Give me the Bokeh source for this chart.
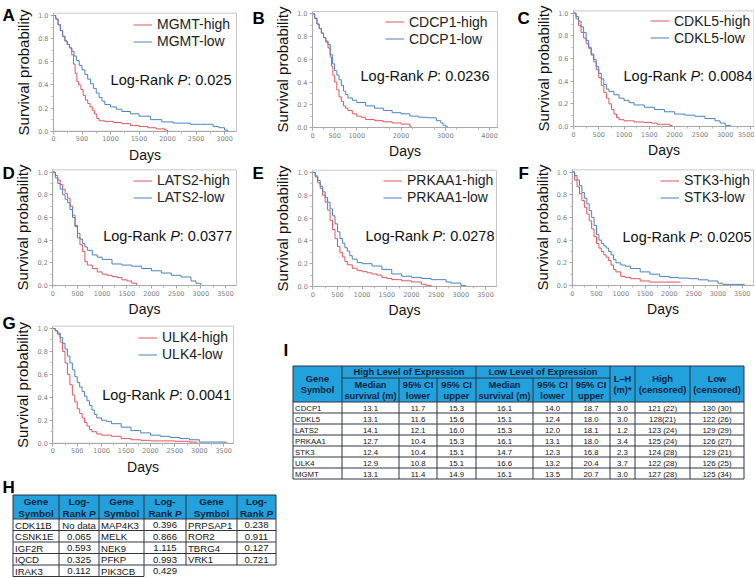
from bokeh.plotting import figure
from bokeh.models import Range1d, FixedTicker, Legend, LegendItem, PrintfTickFormatter, LinearAxis
from bokeh.core.properties import value
from bokeh.embed import file_html
from bokeh.resources import INLINE

RED = "#e0575c"
BLUE = "#4b82c3"
FONT = "Liberation Sans"
W, H = 754, 577

# ---------------- data: Kaplan-Meier curves (days, survival probability) ----------------
A_GENE, A_P = "MGMT", "0.025"
A_HIGH_T = [0, 40, 80, 120, 160, 200, 240, 280, 320, 350, 380, 410, 440, 480, 520, 560, 600, 640, 680, 720, 760, 800, 900, 1050, 1200, 1350, 1500, 1650, 1800, 1950, 2000]
A_HIGH_S = [1.0, 0.97, 0.92, 0.87, 0.82, 0.78, 0.75, 0.72, 0.66, 0.58, 0.50, 0.43, 0.40, 0.36, 0.31, 0.27, 0.24, 0.21, 0.18, 0.15, 0.11, 0.09, 0.085, 0.075, 0.065, 0.05, 0.04, 0.03, 0.02, 0.01, 0.0]
A_LOW_T = [0, 40, 80, 120, 160, 200, 240, 280, 320, 360, 400, 450, 500, 550, 600, 650, 700, 750, 800, 850, 900, 1000, 1100, 1200, 1350, 1500, 1700, 1900, 2100, 2400, 2700, 2800, 2900, 3000, 3050]
A_LOW_S = [1.0, 0.97, 0.92, 0.87, 0.82, 0.78, 0.75, 0.72, 0.69, 0.65, 0.61, 0.57, 0.53, 0.49, 0.45, 0.41, 0.37, 0.33, 0.29, 0.26, 0.23, 0.21, 0.19, 0.17, 0.15, 0.13, 0.10, 0.08, 0.07, 0.06, 0.06, 0.04, 0.03, 0.01, 0.0]
A_XTICKS = [0, 500, 1000, 1500, 2000, 2500, 3000]

B_GENE, B_P = "CDCP1", "0.0236"
B_HIGH_T = [0, 50, 100, 150, 200, 250, 300, 350, 400, 430, 460, 500, 550, 600, 650, 700, 750, 800, 900, 1000, 1100, 1200, 1400, 1600, 1800, 2000, 2200, 2230]
B_HIGH_S = [1.0, 0.96, 0.91, 0.87, 0.83, 0.79, 0.75, 0.70, 0.62, 0.54, 0.46, 0.40, 0.33, 0.27, 0.23, 0.19, 0.17, 0.15, 0.12, 0.10, 0.09, 0.07, 0.06, 0.05, 0.04, 0.03, 0.01, 0.0]
B_LOW_T = [0, 50, 100, 150, 200, 250, 300, 350, 400, 450, 500, 550, 600, 650, 700, 750, 800, 900, 1000, 1200, 1400, 1600, 1800, 2000, 2200, 2400, 2600, 2800, 2900, 2950, 3000, 3050]
B_LOW_S = [1.0, 0.96, 0.91, 0.87, 0.83, 0.79, 0.76, 0.73, 0.64, 0.56, 0.50, 0.46, 0.42, 0.37, 0.32, 0.29, 0.26, 0.24, 0.22, 0.19, 0.17, 0.15, 0.13, 0.12, 0.10, 0.09, 0.085, 0.06, 0.04, 0.02, 0.01, 0.0]
B_XTICKS = [0, 500, 1000, 2000, 3000, 4000]

C_GENE, C_P = "CDKL5", "0.0084"
C_HIGH_T = [0, 50, 100, 150, 200, 250, 300, 350, 400, 450, 500, 550, 600, 650, 700, 750, 800, 850, 900, 1000, 1200, 1400, 1550, 1650, 1900, 1950]
C_HIGH_S = [1.0, 0.95, 0.89, 0.83, 0.78, 0.73, 0.69, 0.63, 0.57, 0.50, 0.43, 0.36, 0.30, 0.25, 0.20, 0.15, 0.11, 0.08, 0.06, 0.05, 0.04, 0.035, 0.03, 0.02, 0.01, 0.0]
C_LOW_T = [0, 50, 100, 150, 200, 250, 300, 350, 400, 450, 500, 550, 600, 650, 700, 800, 900, 1000, 1100, 1200, 1400, 1600, 1800, 2000, 2200, 2400, 2600, 2800, 2900, 3000, 3100, 3550]
C_LOW_S = [1.0, 0.97, 0.93, 0.88, 0.83, 0.76, 0.70, 0.64, 0.59, 0.53, 0.47, 0.42, 0.37, 0.33, 0.31, 0.28, 0.25, 0.23, 0.21, 0.19, 0.17, 0.15, 0.13, 0.11, 0.10, 0.09, 0.07, 0.05, 0.03, 0.01, 0.0, 0.0]
C_XTICKS = [0, 500, 1000, 1500, 2000, 2500, 3000, 3500]

D_GENE, D_P = "LATS2", "0.0377"
D_HIGH_T = [0, 50, 100, 150, 200, 250, 300, 350, 400, 450, 500, 550, 600, 650, 700, 800, 900, 1000, 1100, 1200, 1300, 1400, 1500, 1600, 1700, 2200]
D_HIGH_S = [1.0, 0.97, 0.93, 0.89, 0.85, 0.81, 0.77, 0.70, 0.62, 0.52, 0.42, 0.36, 0.30, 0.21, 0.18, 0.15, 0.12, 0.10, 0.09, 0.08, 0.07, 0.05, 0.04, 0.02, 0.0, 0.0]
D_LOW_T = [0, 50, 100, 150, 200, 250, 300, 350, 400, 450, 500, 550, 600, 650, 700, 800, 900, 1000, 1200, 1400, 1600, 1800, 2000, 2200, 2400, 2600, 2800, 2900, 3000, 3550]
D_LOW_S = [1.0, 0.95, 0.90, 0.85, 0.80, 0.76, 0.73, 0.67, 0.60, 0.53, 0.46, 0.41, 0.37, 0.34, 0.31, 0.27, 0.25, 0.23, 0.19, 0.18, 0.17, 0.15, 0.13, 0.11, 0.09, 0.075, 0.04, 0.02, 0.0, 0.0]
D_XTICKS = [0, 500, 1000, 1500, 2000, 2500, 3000, 3500]

E_GENE, E_P = "PRKAA1", "0.0278"
E_HIGH_T = [0, 50, 100, 150, 200, 250, 300, 350, 400, 450, 500, 550, 600, 650, 700, 800, 900, 1000, 1100, 1200, 1300, 1400, 1500, 1600, 1800, 2000, 2200, 2300, 2400]
E_HIGH_S = [1.0, 0.96, 0.91, 0.86, 0.80, 0.74, 0.67, 0.58, 0.50, 0.42, 0.35, 0.30, 0.26, 0.22, 0.19, 0.16, 0.14, 0.13, 0.12, 0.11, 0.10, 0.08, 0.07, 0.06, 0.05, 0.04, 0.02, 0.01, 0.0]
E_LOW_T = [0, 50, 100, 150, 200, 250, 300, 350, 400, 450, 500, 550, 600, 650, 700, 750, 800, 900, 1000, 1200, 1400, 1600, 1800, 2000, 2200, 2400, 2600, 2700, 2800, 3000, 3100, 3550]
E_LOW_S = [1.0, 0.97, 0.93, 0.88, 0.83, 0.78, 0.74, 0.68, 0.62, 0.55, 0.48, 0.42, 0.38, 0.34, 0.31, 0.27, 0.24, 0.21, 0.20, 0.18, 0.15, 0.11, 0.09, 0.08, 0.07, 0.06, 0.06, 0.04, 0.03, 0.01, 0.0, 0.0]
E_XTICKS = [0, 500, 1000, 1500, 2000, 2500, 3000, 3500]

F_GENE, F_P = "STK3", "0.0205"
F_HIGH_T = [0, 50, 100, 150, 200, 250, 300, 350, 400, 450, 500, 550, 600, 650, 700, 750, 800, 850, 900, 1000, 1100, 1200, 1400, 1600, 2230]
F_HIGH_S = [1.0, 0.93, 0.87, 0.81, 0.75, 0.69, 0.63, 0.57, 0.50, 0.43, 0.37, 0.33, 0.30, 0.27, 0.25, 0.22, 0.18, 0.14, 0.12, 0.08, 0.07, 0.06, 0.04, 0.03, 0.03]
F_LOW_T = [0, 50, 100, 150, 200, 250, 300, 350, 400, 450, 500, 550, 600, 650, 700, 750, 800, 850, 900, 1000, 1100, 1200, 1400, 1600, 1800, 2000, 2200, 2400, 2600, 2800, 3000, 3100, 3550]
F_LOW_S = [1.0, 0.97, 0.93, 0.88, 0.82, 0.77, 0.72, 0.66, 0.60, 0.53, 0.45, 0.40, 0.37, 0.35, 0.33, 0.30, 0.27, 0.23, 0.20, 0.18, 0.17, 0.15, 0.12, 0.10, 0.08, 0.07, 0.065, 0.06, 0.05, 0.04, 0.02, 0.01, 0.01]
F_XTICKS = [0, 500, 1000, 1500, 2000, 2500, 3000, 3500]

G_GENE, G_P = "ULK4", "0.0041"
G_HIGH_T = [0, 50, 100, 150, 200, 250, 300, 350, 400, 450, 500, 550, 600, 650, 700, 750, 800, 900, 1000, 1200, 1400, 1600, 1800, 2000, 2200, 2500, 2800, 2950]
G_HIGH_S = [1.0, 0.98, 0.95, 0.88, 0.80, 0.70, 0.60, 0.51, 0.42, 0.36, 0.30, 0.26, 0.22, 0.18, 0.15, 0.12, 0.10, 0.08, 0.07, 0.06, 0.04, 0.03, 0.025, 0.02, 0.02, 0.017, 0.01, 0.0]
G_LOW_T = [0, 50, 100, 150, 200, 250, 300, 350, 400, 450, 500, 550, 600, 650, 700, 750, 800, 850, 900, 1000, 1100, 1200, 1400, 1600, 1800, 2000, 2200, 2400, 2600, 2800, 3000, 3550]
G_LOW_S = [1.0, 0.98, 0.96, 0.92, 0.87, 0.82, 0.76, 0.70, 0.64, 0.58, 0.53, 0.49, 0.45, 0.41, 0.37, 0.33, 0.29, 0.25, 0.22, 0.20, 0.19, 0.17, 0.14, 0.11, 0.09, 0.07, 0.06, 0.05, 0.04, 0.03, 0.01, 0.0]
G_XTICKS = [0, 500, 1000, 1500, 2000, 2500, 3000, 3500]

Y_TICKS = [0.0, 0.2, 0.4, 0.6, 0.8, 1.0]

# ---------------- data: table I ----------------
I_GENES = ["CDCP1", "CDKL5", "LATS2", "PRKAA1", "STK3", "ULK4", "MGMT"]
I_HIGH_MED = ["13.1", "13.1", "14.1", "12.7", "12.4", "12.9", "13.1"]
I_HIGH_LO = ["11.7", "11.6", "12.1", "10.4", "10.4", "10.8", "11.4"]
I_HIGH_UP = ["15.3", "15.6", "16.0", "15.3", "15.1", "15.1", "14.9"]
I_LOW_MED = ["16.1", "15.1", "15.3", "16.1", "14.7", "16.6", "16.1"]
I_LOW_LO = ["14.0", "12.4", "12.0", "13.1", "12.3", "13.2", "13.5"]
I_LOW_UP = ["18.7", "18.0", "18.1", "18.0", "16.8", "20.4", "20.7"]
I_LH = ["3.0", "3.0", "1.2", "3.4", "2.3", "3.7", "3.0"]
I_HIGH_N = ["121 (22)", "128(21)", "123 (24)", "125 (24)", "124 (28)", "122 (28)", "127 (28)"]
I_LOW_N = ["130 (30)", "122 (26)", "129 (29)", "126 (27)", "129 (21)", "126 (25)", "125 (34)"]

# ---------------- data: table H ----------------
H_GENES_1 = ["CDK11B", "CSNK1E", "IGF2R", "IQCD", "IRAK3"]
H_P_1 = ["No data", "0.065", "0.593", "0.325", "0.112"]
H_GENES_2 = ["MAP4K3", "MELK", "NEK9", "PFKP", "PIK3CB"]
H_P_2 = ["0.396", "0.866", "1.115", "0.993", "0.429"]
H_GENES_3 = ["PRPSAP1", "ROR2", "TBRG4", "VRK1"]
H_P_3 = ["0.238", "0.911", "0.127", "0.721"]

# ---------------- canvas (pixel coordinates, y downwards) ----------------
p = figure(width=W, height=H, x_range=Range1d(0, W), y_range=Range1d(H, 0),
           x_axis_type=None, y_axis_type=None, min_border=0, outline_line_color=None,
           output_backend="svg", toolbar_location=None, tools="")
p.grid.visible = False

REG = {' ': 278, '-': 333, ':': 278, '.': 278, 'L': 556, 'o': 556, 'g': 556, 'R': 722,
       'a': 556, 'n': 556, 'k': 500, 'P': 667}
BOLD = {' ': 278, 'R': 722, 'a': 556, 'n': 611, 'k': 556, 'P': 667}


def text_width(s, size, table=REG):
    return sum(table.get(c, 556) for c in s) * size / 1000.0


def txt(xs, ys, texts, size, align="center", color="#151515", style="normal", baseline="middle"):
    p.text(x=xs, y=ys, text=texts, text_font=value(FONT), text_font_size=value(size),
           text_font_style=style, text_align=align, text_baseline=baseline, text_color=color)


XR, YR = {}, {}


def km_panel(name, gene, pval, hi_t, hi_s, lo_t, lo_s, xticks, xend, geo, leg, ptxt):
    left, right, y0, y1 = geo
    s = xend / (right - left)
    k = 1.0 / (y0 - y1)
    XR[name] = Range1d(-left * s, (W - left) * s)
    YR[name] = Range1d((y0 - H) * k, y0 * k)
    kw = dict(x_range_name=name, y_range_name=name)
    p.quad(left=[0], right=[xend], bottom=[0], top=[1.02], fill_color=None,
           line_color="#c8c8c8", line_width=1, **kw)
    rh = p.step(hi_t, hi_s, mode="after", line_color=RED, line_width=1, **kw)
    rl = p.step(lo_t, lo_s, mode="after", line_color=BLUE, line_width=1, **kw)
    step = xticks[1] - xticks[0]
    minors = [t + step / 2 for t in range(0, int(xend), int(step)) if t + step / 2 < xend]
    xa = LinearAxis(fixed_location=0, bounds=(0, xend), ticker=FixedTicker(ticks=xticks, minor_ticks=minors),
                    axis_label="Days", **kw)
    ya = LinearAxis(fixed_location=0, bounds=(0, 1.02),
                    ticker=FixedTicker(ticks=Y_TICKS, minor_ticks=[0.1, 0.3, 0.5, 0.7, 0.9]),
                    formatter=PrintfTickFormatter(format="%.1f"), axis_label="Survival probability", **kw)
    for ax in (xa, ya):
        ax.major_label_text_font = "DejaVu Sans"
        ax.major_label_text_font_size = "6.5px"
        ax.major_label_text_color = "#808080"
        ax.axis_line_color = "#a8a8a8"
        ax.major_tick_line_color = "#a8a8a8"
        ax.minor_tick_line_color = "#b8b8b8"
        ax.major_tick_out = 3
        ax.major_tick_in = 0
        ax.minor_tick_out = 2
        ax.minor_tick_in = 0
        ax.major_label_standoff = 2
        ax.axis_label_text_font = FONT
        ax.axis_label_text_font_style = "normal"
        ax.axis_label_text_color = "#111111"
    xa.axis_label_text_font_size = "14px"
    xa.axis_label_standoff = 2
    ya.axis_label_text_font_size = "15px"
    ya.axis_label_standoff = 3
    p.add_layout(xa, "below")
    p.add_layout(ya, "left")
    lx, ltop = leg
    legend = Legend(items=[LegendItem(label=gene + "-high", renderers=[rh]),
                           LegendItem(label=gene + "-low", renderers=[rl])],
                    location=(lx, H - (ltop + 34)), margin=0, padding=0, spacing=0,
                    border_line_color=None, background_fill_alpha=0,
                    label_text_font=FONT, label_text_font_size="14px", label_text_color="#222222",
                    glyph_width=19, glyph_height=17, label_height=17, label_standoff=5)
    p.add_layout(legend)
    xr, yc = ptxt
    fs = 14.5
    tail = ": " + pval
    w_tail = text_width(tail, fs)
    w_p = text_width("P", fs)
    txt([xr], [yc], [tail], "14.5px", align="right", color="#111111")
    txt([xr - w_tail], [yc], ["P"], "14.5px", align="right", color="#111111", style="italic")
    txt([xr - w_tail - w_p], [yc], ["Log-Rank "], "14.5px", align="right", color="#111111")


# geo: (px of day 0, px of frame right, px of survival 0, px of survival 1.0)
km_panel("A", A_GENE, A_P, A_HIGH_T, A_HIGH_S, A_LOW_T, A_LOW_S, A_XTICKS, 3210, (53, 236, 130.7, 15), (133, 15.5), (231, 79))
km_panel("B", B_GENE, B_P, B_HIGH_T, B_HIGH_S, B_LOW_T, B_LOW_S, B_XTICKS, 4180, (312, 497, 127, 13.3), (385, 13.2), (489, 75))
km_panel("C", C_GENE, C_P, C_HIGH_T, C_HIGH_S, C_LOW_T, C_LOW_S, C_XTICKS, 3570, (573, 753.5, 126, 12.7), (650, 12.2), (752, 75.7))
km_panel("D", D_GENE, D_P, D_HIGH_T, D_HIGH_S, D_LOW_T, D_LOW_S, D_XTICKS, 3723, (52.3, 236, 285, 171.6), (133, 171.5), (231.7, 235))
km_panel("E", E_GENE, E_P, E_HIGH_T, E_HIGH_S, E_LOW_T, E_LOW_S, E_XTICKS, 3723, (312.3, 496, 286, 172), (383, 171.5), (494, 235.7))
km_panel("F", F_GENE, F_P, F_HIGH_T, F_HIGH_S, F_LOW_T, F_LOW_S, F_XTICKS, 3732, (571.7, 753, 285, 171.6), (660, 171.5), (751, 236.7))
km_panel("G", G_GENE, G_P, G_HIGH_T, G_HIGH_S, G_LOW_T, G_LOW_S, G_XTICKS, 3700, (52.3, 233, 442.7, 328), (138, 328.8), (230.7, 394.3))
p.extra_x_ranges = XR
p.extra_y_ranges = YR

# panel letters
txt([2, 252, 517, 2, 252, 518, 2, 2, 283], [15, 18, 18, 173, 173, 173, 323, 487, 350],
    ["A", "B", "C", "D", "E", "F", "G", "H", "I"], "17px", align="left", color="#000000",
    style="bold", baseline="alphabetic")

# ---------------- tables ----------------
HDR_FILL = "#22a1dc"
HDR_TEXT = "#0f1f3d"
LINE = "#2e3440"

# Table I
XI = [292.5, 341.5, 398.5, 436.5, 475.5, 532.5, 571.5, 609.5, 634.5, 689.5, 743.5]
YT, YM, YH = 365.5, 377.5, 401.5
RH = 11
YB = YH + RH * len(I_GENES)
p.quad(left=[XI[0]], right=[XI[-1]], top=[YT], bottom=[YH], fill_color=HDR_FILL, line_color=None)
vx0, vy0, vx1, vy1 = [], [], [], []
for i, x in enumerate(XI):
    vx0.append(x); vx1.append(x); vy1.append(YB)
    vy0.append(YM if i in (2, 3, 5, 6) else YT)
for y in [YT, YH] + [YH + RH * (k + 1) for k in range(len(I_GENES))]:
    vx0.append(XI[0]); vx1.append(XI[-1]); vy0.append(y); vy1.append(y)
vx0.append(XI[1]); vx1.append(XI[7]); vy0.append(YM); vy1.append(YM)
p.segment(x0=vx0, y0=vy0, x1=vx1, y1=vy1, line_color=LINE, line_width=1)

cx = [(XI[k] + XI[k + 1]) / 2 for k in range(len(XI) - 1)]
hsz = "9.3px"
txt([cx[0], cx[0]], [YT + 12.5, YT + 23.5], ["Gene", "Symbol"], hsz, color=HDR_TEXT, style="bold")
txt([(XI[1] + XI[4]) / 2, (XI[4] + XI[7]) / 2], [YT + 6, YT + 6],
    ["High Level of Expression", "Low Level of Expression"], hsz, color=HDR_TEXT, style="bold")
txt(cx[1:7], [YM + 6.5] * 6, ["Median", "95% CI", "95% CI", "Median", "95% CI", "95% CI"], hsz, color=HDR_TEXT, style="bold")
txt(cx[1:7], [YM + 17.5] * 6, ["survival (m)", "lower", "upper", "survival (m)", "lower", "upper"], hsz, color=HDR_TEXT, style="bold")
txt(cx[7:10], [YT + 12.5] * 3, ["L\u2013H", "High", "Low"], hsz, color=HDR_TEXT, style="bold")
txt(cx[7:10], [YT + 23.5] * 3, ["(m)*", "(censored)", "(censored)"], hsz, color=HDR_TEXT, style="bold")
rows_y = [YH + RH * k + RH / 2 + 0.5 for k in range(len(I_GENES))]
bsz = "7.8px"
txt([XI[0] + 2] * len(I_GENES), rows_y, I_GENES, bsz, align="left")
for k, col in enumerate([I_HIGH_MED, I_HIGH_LO, I_HIGH_UP, I_LOW_MED, I_LOW_LO, I_LOW_UP, I_LH, I_HIGH_N, I_LOW_N]):
    txt([cx[k + 1]] * len(col), rows_y, col, bsz)

# Table H
XH = [12.5, 58.5, 98.5, 143.5, 185.5, 236.5, 275.5]
HT, HB, HR = 494.5, 518.5, 11.5
p.quad(left=[XH[0]], right=[XH[-1]], top=[HT], bottom=[HB], fill_color=HDR_FILL, line_color=None)
sx0, sy0, sx1, sy1 = [], [], [], []
for i, x in enumerate(XH):
    sx0.append(x); sx1.append(x); sy0.append(HT)
    sy1.append(HB + HR * 5 if i <= 3 else HB + HR * 4)
for y in [HT] + [HB + HR * k for k in range(5)]:
    sx0.append(XH[0]); sx1.append(XH[-1]); sy0.append(y); sy1.append(y)
sx0.append(XH[0]); sx1.append(XH[3]); sy0.append(HB + HR * 5); sy1.append(HB + HR * 5)
p.segment(x0=sx0, y0=sy0, x1=sx1, y1=sy1, line_color=LINE, line_width=1)

hcx = [(XH[k] + XH[k + 1]) / 2 for k in range(6)]
hh = 9.8
txt([hcx[0], hcx[2], hcx[4]], [HT + 6.5] * 3, ["Gene"] * 3, "9.8px", color=HDR_TEXT, style="bold")
txt([hcx[0], hcx[2], hcx[4]], [HT + 18] * 3, ["Symbol"] * 3, "9.8px", color=HDR_TEXT, style="bold")
txt([hcx[1], hcx[3], hcx[5]], [HT + 6.5] * 3, ["Log-"] * 3, "9.8px", color=HDR_TEXT, style="bold")
w_rank = text_width("Rank ", hh, BOLD)
w_all = w_rank + text_width("P", hh, BOLD)
starts = [hcx[k] - w_all / 2 for k in (1, 3, 5)]
txt(starts, [HT + 18] * 3, ["Rank "] * 3, "9.8px", align="left", color=HDR_TEXT, style="bold")
txt([s + w_rank for s in starts], [HT + 18] * 3, ["P"] * 3, "9.8px", align="left", color=HDR_TEXT, style="bold italic")
hrows = [HB + HR * k + HR / 2 + 0.5 for k in range(5)]
bs = "9.6px"
txt([XH[0] + 2] * 5, hrows, H_GENES_1, bs, align="left")
txt([hcx[1]] * 5, hrows, H_P_1, bs)
txt([XH[2] + 2] * 5, hrows, H_GENES_2, bs, align="left")
txt([hcx[3]] * 5, hrows, H_P_2, bs)
txt([XH[4] + 2] * 4, hrows[:4], H_GENES_3, bs, align="left")
txt([hcx[5]] * 4, hrows[:4], H_P_3, bs)

with open("out.html", "w") as f:
    f.write(file_html(p, INLINE))
